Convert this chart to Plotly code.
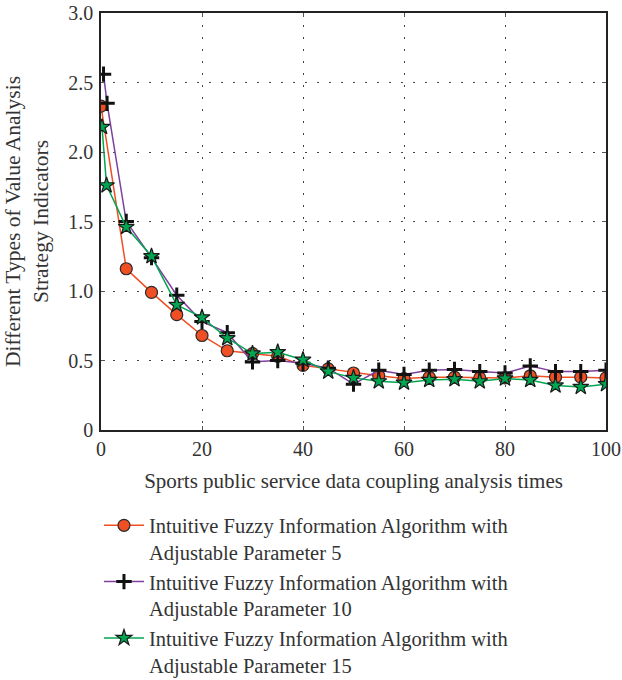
import plotly.graph_objects as go

# Data
x_red = [0, 5, 10, 15, 20, 25, 30, 35, 40, 45, 50, 55, 60, 65, 70, 75, 80, 85, 90, 95, 100]
y_red = [2.33, 1.16, 0.99, 0.83, 0.68, 0.57, 0.55, 0.53, 0.465, 0.44, 0.41, 0.39, 0.37, 0.38, 0.38, 0.375, 0.375, 0.39, 0.38, 0.38, 0.375]

x_purple = [0.5, 1.2, 5, 10, 15, 20, 25, 30, 35, 40, 45, 50, 55, 60, 65, 70, 75, 80, 85, 90, 95, 100]
y_purple = [2.56, 2.35, 1.50, 1.24, 0.97, 0.78, 0.70, 0.49, 0.50, 0.48, 0.445, 0.33, 0.43, 0.40, 0.43, 0.435, 0.42, 0.41, 0.46, 0.42, 0.42, 0.43]

x_green = [0.2, 1.1, 5, 10, 15, 20, 25, 30, 35, 40, 45, 50, 55, 60, 65, 70, 75, 80, 85, 90, 95, 100]
y_green = [2.18, 1.76, 1.46, 1.25, 0.90, 0.81, 0.66, 0.55, 0.56, 0.505, 0.42, 0.375, 0.35, 0.34, 0.36, 0.365, 0.35, 0.37, 0.36, 0.32, 0.31, 0.33]

names = [
    "Intuitive Fuzzy Information Algorithm with<br>Adjustable Parameter 5",
    "Intuitive Fuzzy Information Algorithm with<br>Adjustable Parameter 10",
    "Intuitive Fuzzy Information Algorithm with<br>Adjustable Parameter 15",
]

x_ticks = [0, 20, 40, 60, 80, 100]
y_ticks = [0, 0.5, 1.0, 1.5, 2.0, 2.5, 3.0]
y_tick_text = ["0", "0.5", "1.0", "1.5", "2.0", "2.5", "3.0"]

FONT = "Liberation Serif"
TXT = "#333333"

fig = go.Figure()
fig.add_trace(go.Scatter(
    x=x_red, y=y_red, name=names[0], mode="lines+markers",
    line=dict(color="#F04E23", width=1.5),
    marker=dict(symbol="circle", size=12, color="#F04E23", line=dict(color="#2a2a2a", width=1.2)),
))
fig.add_trace(go.Scatter(
    x=x_purple, y=y_purple, name=names[1], mode="lines+markers",
    line=dict(color="#7E3F9E", width=1.5),
    marker=dict(symbol="cross-thin", size=11, color="#111111", line=dict(color="#111111", width=3)),
))
fig.add_trace(go.Scatter(
    x=x_green, y=y_green, name=names[2], mode="lines+markers",
    line=dict(color="#00A651", width=1.5),
    marker=dict(symbol="star", size=12, color="#00A651", line=dict(color="#1a1a1a", width=1.2)),
))

axis_common = dict(
    showline=True, linecolor="#222222", linewidth=1.5, mirror="ticks",
    ticks="inside", ticklen=4, tickcolor="#555555",
    showgrid=True, gridcolor="#444444", gridwidth=1, griddash="2px,10px",
    zeroline=False, automargin=False, ticklabeloverflow="allow",
    tickfont=dict(family=FONT, size=20, color=TXT),
)

fig.update_xaxes(
    range=[0, 100], tickvals=x_ticks, ticktext=[str(v) for v in x_ticks],
    title=dict(text="Sports public service data coupling analysis times",
               font=dict(family=FONT, size=21, color=TXT), standoff=15),
    **axis_common,
)
fig.update_yaxes(
    range=[0, 3.0], tickvals=y_ticks, ticktext=y_tick_text, ticklabelstandoff=2,
    title=dict(text="Different Types of Value Analysis<br>Strategy Indicators",
               font=dict(family=FONT, size=21.5, color=TXT), standoff=14),
    **axis_common,
)

fig.update_layout(
    width=622, height=700,
    margin=dict(l=100.5, r=16, t=12.5, b=270),
    plot_bgcolor="white", paper_bgcolor="white",
    font=dict(family=FONT, size=20, color=TXT),
    legend=dict(
        x=-0.004, y=-0.181, xanchor="left", yanchor="top",
        valign="top", itemwidth=40,
        font=dict(family=FONT, size=20.5, color=TXT),
        bgcolor="rgba(0,0,0,0)",
    ),
)

fig.write_html(
    "out.html",
    config={"displayModeBar": False},
    post_script="document.body.style.margin='0';document.body.style.overflow='hidden';",
)
